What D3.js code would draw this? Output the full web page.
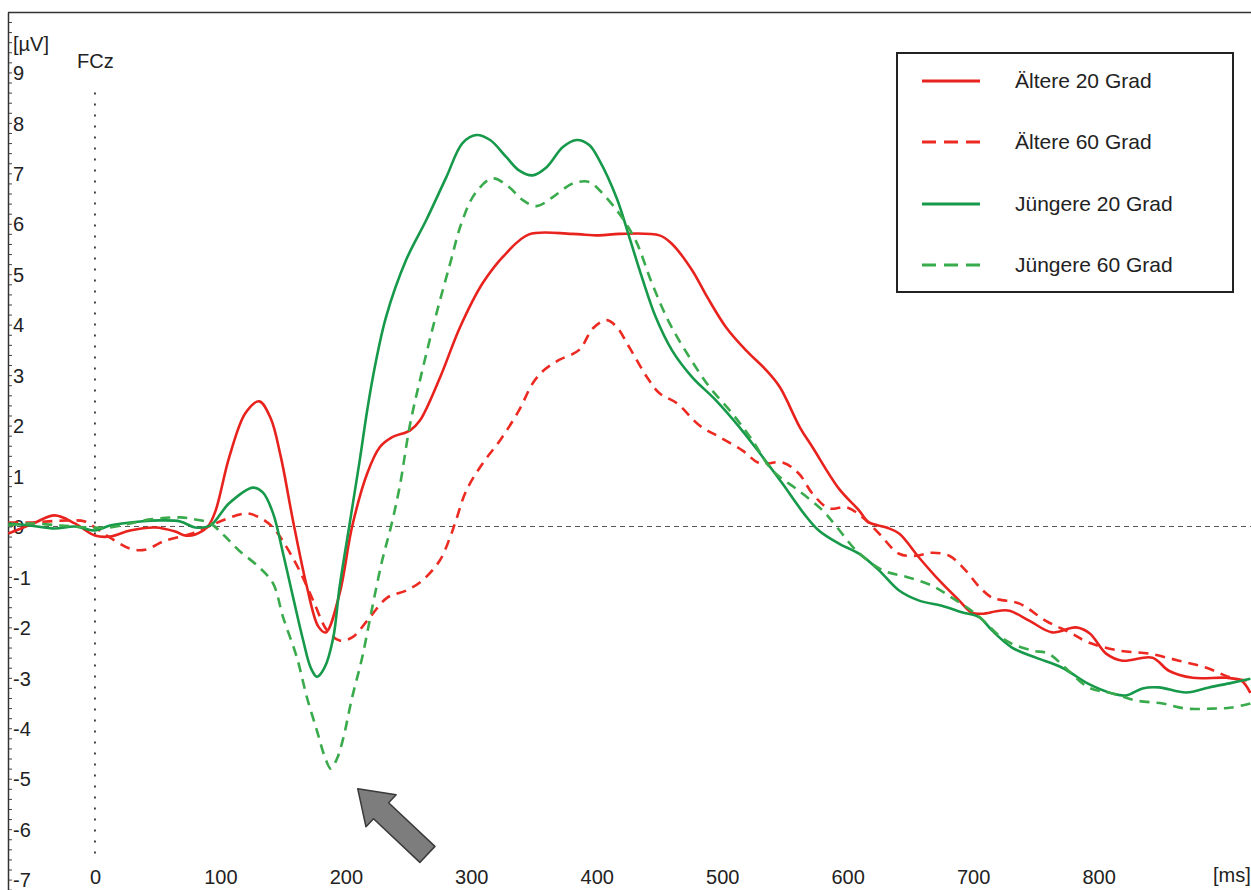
<!DOCTYPE html>
<html><head><meta charset="utf-8">
<script src="https://cdn.jsdelivr.net/npm/d3@7"></script>
<style>
body{margin:0;background:#fff;}
svg{display:block;}
.lbl{font-family:"Liberation Sans Narrow","Arial Narrow","Liberation Sans",Arial,sans-serif;font-size:20px;fill:#222;}
.leg{font-family:"Liberation Sans",Arial,sans-serif;font-size:21px;fill:#222;}
</style></head><body>
<svg id="c" width="1251" height="890"></svg>
<script>
// ---- data ----
const msTicks = [0,100,200,300,400,500,600,700,800];
const uvTicks = [9,8,7,6,5,4,3,2,1,0,-1,-2,-3,-4,-5,-6,-7];
const seriesNames = ["Ältere 20 Grad","Ältere 60 Grad","Jüngere 20 Grad","Jüngere 60 Grad"];

const aeltere20 = [[-69,-0.14],[-50,0.05],[-32,0.22],[-16,0.06],[0,-0.18],[12,-0.2],[28,-0.08],[48,-0.02],[64,-0.1],[72,-0.18],[80,-0.16],[90,0],[96,0.3],[107,1.37],[120,2.25],[131,2.48],[140,2.15],[148,1.4],[158,0.1],[169,-1.2],[178,-1.98],[184,-2.1],[195,-1.33],[205,0],[217,1.05],[227,1.57],[237,1.77],[251,1.9],[259,2.1],[275,2.95],[291,3.95],[309,4.82],[328,5.42],[346,5.79],[380,5.8],[402,5.77],[418,5.8],[450,5.77],[460,5.6],[476,5.08],[488,4.55],[503,3.95],[519,3.49],[535,3.1],[546,2.76],[562,1.96],[572,1.57],[593,0.75],[609,0.32],[617,0.08],[631,-0.02],[641,-0.14],[657,-0.62],[673,-1.07],[689,-1.47],[699,-1.71],[707,-1.73],[721,-1.67],[729,-1.67],[745,-1.87],[763,-2.1],[782,-2.0],[793,-2.12],[806,-2.52],[819,-2.66],[843,-2.6],[856,-2.86],[875,-3.0],[902,-3.0],[914,-3.06],[921,-3.3]];

const aeltere60 = [[-69,0.08],[-52,0.08],[-20,0.12],[-8,0.1],[0,-0.02],[12,-0.22],[28,-0.44],[40,-0.46],[56,-0.28],[72,-0.18],[84,-0.08],[96,0.06],[113,0.22],[121,0.26],[131,0.18],[142,-0.02],[153,-0.42],[163,-0.87],[174,-1.47],[185,-2.06],[195,-2.26],[205,-2.2],[217,-1.87],[233,-1.41],[248,-1.27],[261,-1.07],[275,-0.67],[283,-0.22],[287,0.06],[296,0.71],[309,1.25],[323,1.71],[338,2.3],[349,2.84],[358,3.1],[370,3.3],[386,3.5],[397,3.93],[408,4.09],[416,3.95],[426,3.55],[440,2.96],[450,2.64],[464,2.44],[482,2.0],[498,1.77],[516,1.51],[530,1.25],[548,1.27],[561,1.05],[572,0.65],[585,0.36],[599,0.38],[612,0.18],[625,-0.14],[641,-0.54],[655,-0.58],[667,-0.52],[681,-0.58],[694,-0.87],[705,-1.2],[715,-1.41],[721,-1.45],[737,-1.53],[758,-1.87],[777,-2.1],[792,-2.3],[816,-2.46],[840,-2.52],[864,-2.66],[886,-2.8],[906,-3.0],[921,-3.06]];

const juengere20 = [[-69,0.06],[-52,0.02],[-32,-0.04],[-16,0.0],[0,-0.08],[12,0.02],[36,0.1],[52,0.12],[68,0.1],[80,-0.02],[92,0.02],[107,0.46],[126,0.77],[134,0.67],[142,0.26],[150,-0.54],[158,-1.41],[166,-2.26],[172,-2.8],[177,-2.98],[183,-2.8],[190,-2.2],[195,-1.2],[203,0.05],[211,1.3],[217,2.3],[223,3.15],[232,4.15],[248,5.28],[264,6.07],[280,6.92],[293,7.6],[304,7.76],[315,7.66],[328,7.32],[338,7.06],[349,6.96],[360,7.12],[373,7.52],[384,7.66],[394,7.56],[402,7.26],[416,6.5],[426,5.73],[436,4.94],[447,4.15],[460,3.49],[476,2.96],[495,2.5],[514,1.96],[530,1.45],[548,0.85],[565,0.26],[577,-0.08],[593,-0.34],[609,-0.54],[625,-0.87],[641,-1.27],[657,-1.47],[675,-1.57],[691,-1.7],[705,-1.8],[715,-2.06],[731,-2.4],[750,-2.6],[771,-2.8],[792,-3.12],[811,-3.31],[822,-3.35],[835,-3.21],[848,-3.19],[870,-3.29],[888,-3.19],[906,-3.1],[921,-3.02]];

const juengere60 = [[-69,0.02],[-52,0.06],[-28,0.02],[-4,-0.02],[12,-0.02],[44,0.14],[68,0.18],[80,0.14],[92,0.06],[103,-0.18],[115,-0.48],[131,-0.81],[142,-1.13],[150,-1.8],[161,-2.6],[169,-3.39],[177,-4.05],[183,-4.55],[188,-4.8],[193,-4.6],[198,-4.19],[205,-3.39],[213,-2.6],[221,-1.61],[229,-0.67],[236,0],[243,0.8],[251,2.0],[261,3.1],[272,4.2],[283,5.2],[292,6.0],[303,6.6],[317,6.9],[330,6.73],[341,6.47],[352,6.35],[365,6.53],[381,6.8],[394,6.83],[402,6.67],[418,6.2],[431,5.67],[444,4.82],[458,4.03],[474,3.35],[490,2.76],[508,2.24],[524,1.71],[540,1.11],[561,0.71],[580,0.32],[591,0],[607,-0.48],[628,-0.87],[647,-1.0],[667,-1.17],[683,-1.41],[702,-1.73],[726,-2.26],[747,-2.46],[760,-2.52],[776,-2.86],[792,-3.19],[811,-3.31],[830,-3.45],[851,-3.51],[870,-3.61],[890,-3.61],[906,-3.59],[921,-3.51]];

const seriesData = [aeltere20, aeltere60, juengere20, juengere60];
const seriesColors = ["#e8231e","#ec2a22","#16994a","#3aab4c"];
const seriesDash = [null,"10,7",null,"10,7"];

// ---- scales ----
const W = 1251, H = 890;
const svg = d3.select("#c");
const x = d3.scaleLinear().domain([-69.3, 921.5]).range([8, 1251]);
const y = d3.scaleLinear().domain([10.198, -7.206]).range([12, 890]);

// frame: top border
svg.append("line").attr("x1",8).attr("x2",W).attr("y1",12.5).attr("y2",12.5)
  .attr("stroke","#333").attr("stroke-width",1.5);

// minor ticks on y axis
const minor = d3.range(-7.2, 10.2, 0.2).map(v => Math.round(v*10)/10);
const gMinor = svg.append("g").attr("transform","translate(8,0)")
  .call(d3.axisRight(y).tickValues(minor).tickSize(4).tickFormat(""));
gMinor.select(".domain").remove();
gMinor.selectAll("line").attr("stroke","#444").attr("stroke-width",1);

const gY = svg.append("g").attr("transform","translate(8,0)")
  .call(d3.axisRight(y).tickValues(uvTicks).tickSize(0).tickPadding(5).tickFormat(d => String(d)));
gY.select(".domain").attr("stroke","#333").attr("stroke-width",1.5);
gY.selectAll("text").attr("class","lbl").attr("font-size",null).attr("font-family",null).attr("fill",null).attr("dy","0.36em");

// x axis labels
const gX = svg.append("g").attr("transform","translate(0,870)")
  .call(d3.axisBottom(x).tickValues(msTicks).tickSize(0).tickPadding(0).tickFormat(d => String(d)));
gX.select(".domain").remove();
gX.selectAll("text").attr("class","lbl").attr("font-size",null).attr("font-family",null).attr("fill",null);

// unit labels
svg.append("text").attr("class","lbl").attr("x",13).attr("y",51).text("[µV]");
svg.append("text").attr("class","lbl").attr("x",1213).attr("y",882).text("[ms]");
svg.append("text").attr("class","lbl").attr("x",77).attr("y",68).text("FCz");

// zero line
svg.append("line").attr("x1",8).attr("x2",W).attr("y1",y(0)).attr("y2",y(0))
  .attr("stroke","#555").attr("stroke-width",1).attr("stroke-dasharray","5,4");

// stimulus onset dotted line
svg.append("line").attr("x1",x(0)).attr("x2",x(0)).attr("y1",y(8.6)).attr("y2",y(-6.55))
  .attr("stroke","#333").attr("stroke-width",1.8).attr("stroke-dasharray","2,9");

// curves
const line = d3.line().x(d => x(d[0])).y(d => y(d[1])).curve(d3.curveCatmullRom.alpha(0.5));
seriesData.forEach((s,i) => {
  svg.append("path").datum(s).attr("d", line)
    .attr("fill","none").attr("stroke",seriesColors[i]).attr("stroke-width",2.6)
    .attr("stroke-linejoin","round")
    .attr("stroke-dasharray", seriesDash[i]);
});

// arrow annotation
const tip = [x(209.5), y(-5.2)], tail = [x(265), y(-6.5)];
const ang = Math.atan2(tail[1]-tip[1], tail[0]-tip[0]);
const len = Math.hypot(tail[0]-tip[0], tail[1]-tip[1]);
const hl = 32, hw = 22, sw = 11;
const local = [[0,0],[hl,-hw],[hl,-sw],[len,-sw],[len,sw],[hl,sw],[hl,hw]];
const pts = local.map(([u,w]) => [tip[0] + u*Math.cos(ang) - w*Math.sin(ang), tip[1] + u*Math.sin(ang) + w*Math.cos(ang)]);
svg.append("polygon").attr("points", pts.map(p => p.join(",")).join(" "))
  .attr("fill","#7d7d7d").attr("stroke","#3a3a3a").attr("stroke-width",1.5).attr("stroke-linejoin","round");

// legend
const lg = svg.append("g");
lg.append("rect").attr("x",897).attr("y",53).attr("width",336).attr("height",239)
  .attr("fill","#fff").attr("stroke","#222").attr("stroke-width",2);
const rowY = [81,142,204,265];
seriesNames.forEach((n,i) => {
  lg.append("line").attr("x1",922).attr("x2",980).attr("y1",rowY[i]).attr("y2",rowY[i])
    .attr("stroke",seriesColors[i]).attr("stroke-width",3).attr("stroke-dasharray", seriesDash[i] ? "14,8" : null);
  lg.append("text").attr("class","leg").attr("x",1015).attr("y",rowY[i]+7).text(n);
});
</script>
</body></html>
